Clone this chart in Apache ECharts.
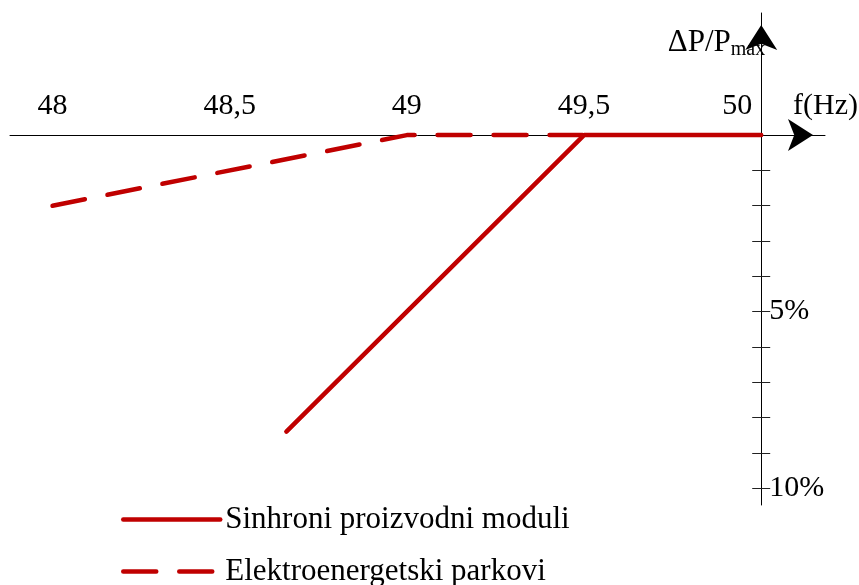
<!DOCTYPE html>
<html>
<head>
<meta charset="utf-8">
<script src="https://cdn.jsdelivr.net/npm/echarts@6/dist/echarts.min.js"></script>
<style>
  html, body { margin: 0; padding: 0; background: #fff; }
  #chart { width: 859px; height: 585px; }
</style>
</head>
<body>
<div id="chart"></div>
<script>
  // data
  const freqSinhroni = [48.66, 49.5, 50];
  const dpSinhroni = [8.4, 0, 0];
  const freqParkovi = [48, 49, 49.5];
  const dpParkovi = [2, 0, 0];
  const xTickLabels = [48, 48.5, 49, 49.5, 50];
  const yTickMarks = [1, 2, 3, 4, 5, 6, 7, 8, 9, 10];
  const yTickLabels = [5, 10];

  const red = "#c00000";
  const font = "Liberation Serif";
  const gridTop = 13, gridRight = 34;

  let myChart = echarts.init(document.getElementById("chart"));

  function pairs(xs, ys) {
    return xs.map((x, i) => [x, ys[i]]);
  }

  function yAxisBase(offset) {
    return {
      type: "value",
      inverse: true,
      min: -3.46,
      max: 10.48,
      position: "right",
      offset: offset,
      splitLine: { show: false }
    };
  }

  function buildOption(xOff, yOff) {
    return {
      animation: false,
      grid: {
        left: 10, right: gridRight, top: gridTop, bottom: 80,
        containLabel: false, outerBoundsMode: "none"
      },
      legend: {
        orient: "vertical",
        left: 116,
        top: 498,
        height: 110,
        padding: 5,
        itemWidth: 97,
        itemHeight: 14,
        itemGap: 19,
        itemStyle: { opacity: 0, borderWidth: 0 },
        lineStyle: { width: 4.5, cap: "round" },
        textStyle: { fontFamily: font, fontSize: 31, lineHeight: 33, color: "#000" },
        data: ["Sinhroni proizvodni moduli", "Elektroenergetski parkovi"]
      },
      xAxis: {
        type: "value",
        min: 47.88,
        max: 50.18,
        position: "top",
        offset: xOff,
        name: "f(Hz)",
        nameLocation: "end",
        nameGap: -32,
        nameTextStyle: {
          fontFamily: font, fontSize: 30, color: "#000",
          align: "left", verticalAlign: "bottom", padding: [0, 0, 14, 0]
        },
        axisLine: {
          onZero: false,
          lineStyle: { color: "#000", width: 1 },
          symbol: ["none", "arrow"],
          symbolSize: [24, 25],
          symbolOffset: [0, -12]
        },
        axisTick: { show: false },
        splitLine: { show: false },
        axisLabel: {
          customValues: xTickLabels,
          margin: 14,
          fontFamily: font,
          fontSize: 30,
          color: "#000",
          formatter: function (v) {
            if (v === 50) return "{s|50}";
            return String(v).replace(".", ",");
          },
          rich: {
            s: { fontFamily: font, fontSize: 30, color: "#000", padding: [0, 48, 0, 0] }
          }
        }
      },
      yAxis: [
        Object.assign(yAxisBase(yOff), {
          name: "{a|ΔP/P}{b|max}",
          nameLocation: "start",
          nameGap: -47,
          nameTextStyle: {
            align: "right",
            padding: [0, -4, 0, 0],
            rich: {
              a: { fontFamily: font, fontSize: 31, color: "#000" },
              b: { fontFamily: font, fontSize: 20, color: "#000", padding: [14, 0, 0, 0] }
            }
          },
          axisLine: {
            onZero: false,
            lineStyle: { color: "#000", width: 1 },
            symbol: ["none", "arrow"],
            symbolSize: [24, 25],
            symbolOffset: [0, -12]
          },
          axisTick: {
            customValues: yTickMarks,
            length: 9,
            lineStyle: { color: "#222" }
          },
          axisLabel: {
            customValues: yTickLabels,
            margin: 8,
            fontFamily: font,
            fontSize: 30,
            color: "#000",
            formatter: "{value}%"
          }
        }),
        Object.assign(yAxisBase(yOff), {
          axisLine: { show: false, onZero: false },
          axisTick: {
            customValues: yTickMarks,
            inside: true,
            length: 9,
            lineStyle: { color: "#222" }
          },
          axisLabel: { show: false }
        })
      ],
      series: [
        {
          name: "Elektroenergetski parkovi",
          type: "line",
          symbol: "none",
          data: pairs(freqParkovi, dpParkovi),
          lineStyle: { color: red, width: 4.5, type: [33, 23], cap: "round" },
          itemStyle: { color: red }
        },
        {
          name: "Sinhroni proizvodni moduli",
          type: "line",
          symbol: "none",
          data: pairs(freqSinhroni, dpSinhroni),
          lineStyle: { color: red, width: 4.5, cap: "round" },
          itemStyle: { color: red }
        }
      ]
    };
  }

  // axes cross at (50 Hz, 0 %), not at the grid edges
  myChart.setOption(buildOption(0, 0));
  let x50 = myChart.convertToPixel({ xAxisIndex: 0 }, 50);
  let y0 = myChart.convertToPixel({ yAxisIndex: 0 }, 0);
  myChart.setOption(buildOption(-(y0 - gridTop), x50 - (859 - gridRight)));
</script>
</body>
</html>
